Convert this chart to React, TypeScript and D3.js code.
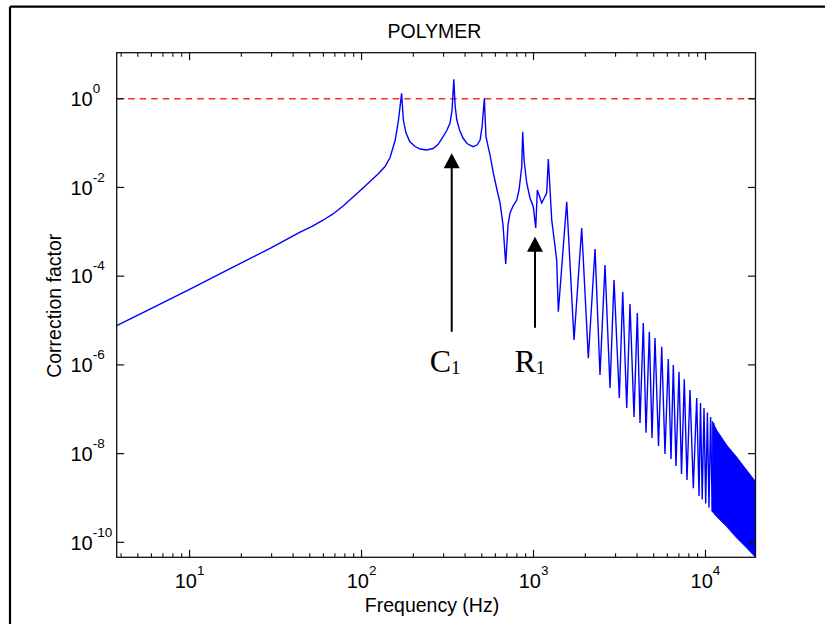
import React from 'react';
import * as d3 from 'd3';

const W = 825;
const H = 624;

// Axis domains (log)
const xDomain = [3.77, 19530];
const yDomain = [4.6e-11, 10.9];

// Tick labels
const xMajorTicks = [10, 100, 1000, 10000];
const xTickExponents = ['1', '2', '3', '4'];
const yMajorTicks = [1, 1e-2, 1e-4, 1e-6, 1e-8, 1e-10];
const yTickExponents = ['0', '-2', '-4', '-6', '-8', '-10'];

const titleText = 'POLYMER';
const xLabelText = 'Frequency (Hz)';
const yLabelText = 'Correction factor';

// Reference line
const referenceValue = 1;

// Correction factor curve (frequency in Hz, value)
const curveFreq = [
  3.77, 5.89, 10.07, 17.2, 29.4, 43.9, 51.55, 59.75, 68.3, 78.05, 94.2, 112, 124.7, 137, 146.5,
  157, 163.7, 167.4, 171, 175, 181.4, 191, 204.7, 218.8, 239, 260.4, 278.4, 298, 314.1, 327,
  336, 344, 349.7, 358, 371.4, 389, 410.6, 445, 469.5, 489, 502, 518, 522.4, 529, 558.6, 584,
  613.5, 639, 664.8, 689, 710.7, 730, 760, 799, 823.6, 854, 865, 880.8, 913, 954, 997, 1030,
  1052, 1116, 1193, 1219, 1276, 1364, 1394, 1560, 1720, 1906, 2083, 2279, 2435, 2604, 2785,
  2938, 3154, 3301, 3483, 3639, 3840, 4013, 4161, 4348, 4510, 4714, 4887, 5086, 5330, 5564,
  5813, 6076, 6301, 6498, 6737, 7013, 7253, 7528, 7805, 8127, 8494, 8888, 9168, 9352, 9568,
  9802, 10027, 10257, 10478, 10707, 10940, 11177, 11402,
];
const curveValue = [
  7.63e-6, 1.816e-5, 5.13e-5, 1.486e-4, 4.24e-4, 9.89e-4, 1.329e-3, 1.824e-3, 2.53e-3, 3.81e-3,
  7.29e-3, 0.0136, 0.02007, 0.0296, 0.0472, 0.117, 0.3144, 0.65, 1.32, 0.331, 0.1686, 0.107,
  0.0836, 0.0735, 0.0698, 0.0754, 0.0928, 0.139, 0.197, 0.283, 0.556, 2.74, 0.721, 0.331, 0.197,
  0.13, 0.0977, 0.0828, 0.0904, 0.117, 0.23, 1.02, 0.429, 0.139, 0.0538, 0.0211, 8.75e-3,
  4.45e-3, 1.42e-3, 1.88e-4, 1.42e-3, 2.65e-3, 3.81e-3, 5.2e-3, 8.75e-3, 0.0293, 0.18, 0.0415,
  0.0126, 5.78e-3, 3.67e-3, 1.22e-3, 8.75e-3, 4.45e-3, 7.48e-3, 0.0437, 1.84e-3, 2.31e-4,
  1.58e-5, 4.77e-3, 3.63e-6, 1.22e-3, 1.41e-6, 4.09e-4, 5.9e-7, 1.78e-4, 3.0e-7, 8.18e-5,
  1.79e-7, 4.46e-5, 1.07e-7, 2.35e-5, 6.68e-8, 1.48e-5, 4.89e-8, 8.79e-6, 2.96e-8, 5.59e-6,
  2.25e-8, 4.03e-6, 1.48e-8, 2.57e-6, 9.8e-9, 1.36e-6, 7.55e-9, 9.93e-7, 5.25e-9, 7.01e-7,
  3.47e-9, 4.72e-7, 2.54e-9, 2.71e-7, 1.65e-9, 1.79e-7, 1.11e-9, 1.38e-7, 9.22e-10, 1.066e-7,
  7.5e-10, 8.44e-8, 6.09e-10, 6.68e-8, 4.95e-10, 4.89e-8, 4.12e-10,
];

// Densely oscillating high-frequency part: upper / lower envelope
const bandFreq = [10940, 11617, 13285, 15186, 17360, 19530];
const bandUpper = [5.43e-8, 3.4e-8, 1.56e-8, 8.37e-9, 4.26e-9, 2.35e-9];
const bandLower = [4.95e-10, 3.78e-10, 2.24e-10, 1.25e-10, 7.44e-11, 4.6e-11];

// Annotations
const annotLabels = ['C', 'R'];
const annotSubs = ['1', '1'];
const annotFreq = [334.5, 1020];
const annotTip = [0.0588, 7.75e-4];
const annotBase = [5.59e-6, 6.88e-6];

const SANS = '"Liberation Sans", Arial, Helvetica, sans-serif';
const SERIF = '"Liberation Serif", "Times New Roman", Times, serif';

export default function App() {
  const M = { left: 116.7, right: 755.5, top: 52.7, bottom: 557.3 };
  const x = d3.scaleLog().domain(xDomain).range([M.left, M.right]);
  const y = d3.scaleLog().domain(yDomain).range([M.bottom, M.top]);

  const pts = curveFreq.map((f, i) => [f, curveValue[i]] as [number, number]);
  const linePath = d3
    .line<[number, number]>()
    .x((d) => x(d[0]))
    .y((d) => y(d[1]))(pts) as string;

  const bandPath = d3
    .area<number>()
    .x((f) => x(f))
    .y0((_, i) => y(bandLower[i]))
    .y1((_, i) => y(bandUpper[i]))(bandFreq) as string;

  const minorX = x.ticks().filter((t) => !xMajorTicks.some((m) => Math.abs(m - t) / m < 1e-6));

  const axisColor = '#111';
  const majLen = 7.5;
  const minLen = 4;

  return (
    <svg
      width={W}
      height={H}
      style={{ position: 'absolute', left: 0, top: 0, background: '#fff' }}
    >
      <rect x={0} y={0} width={W} height={H} fill="#fff" />
      {/* outer frame */}
      <line x1={10} y1={6.7} x2={W} y2={6.7} stroke="#000" strokeWidth={2.2} />
      <line x1={10} y1={6.7} x2={10} y2={H} stroke="#000" strokeWidth={2.2} />

      <defs>
        <clipPath id="plotclip">
          <rect x={M.left} y={M.top} width={M.right - M.left} height={M.bottom - M.top} />
        </clipPath>
      </defs>

      {/* reference line */}
      <line
        x1={M.left}
        x2={M.right}
        y1={y(referenceValue)}
        y2={y(referenceValue)}
        stroke="#ff2a2a"
        strokeWidth={1.4}
        strokeDasharray="6.5,5"
      />

      <g clipPath="url(#plotclip)">
        <path d={bandPath} fill="#0000ff" stroke="#0000ff" strokeWidth={0.8} />
        <path d={linePath} fill="none" stroke="#0000ff" strokeWidth={1.4} strokeLinejoin="miter" strokeMiterlimit={3} />
      </g>

      {/* axes box */}
      <rect
        x={M.left}
        y={M.top}
        width={M.right - M.left}
        height={M.bottom - M.top}
        fill="none"
        stroke={axisColor}
        strokeWidth={1.3}
      />

      {/* x ticks */}
      {xMajorTicks.map((t) => (
        <g key={'xm' + t}>
          <line x1={x(t)} x2={x(t)} y1={M.bottom} y2={M.bottom - majLen} stroke={axisColor} strokeWidth={1.2} />
          <line x1={x(t)} x2={x(t)} y1={M.top} y2={M.top + majLen} stroke={axisColor} strokeWidth={1.2} />
        </g>
      ))}
      {minorX.map((t) => (
        <g key={'xn' + t}>
          <line x1={x(t)} x2={x(t)} y1={M.bottom} y2={M.bottom - minLen} stroke={axisColor} strokeWidth={1.1} />
          <line x1={x(t)} x2={x(t)} y1={M.top} y2={M.top + minLen} stroke={axisColor} strokeWidth={1.1} />
        </g>
      ))}
      {xMajorTicks.map((t, i) => (
        <text
          key={'xl' + t}
          x={x(t)}
          y={588.3}
          textAnchor="middle"
          fontFamily={SANS}
          fontSize={20}
          fill="#000"
        >
          10
          <tspan fontSize={13.5} dy={-13}>
            {xTickExponents[i]}
          </tspan>
        </text>
      ))}

      {/* y ticks */}
      {yMajorTicks.map((t, i) => (
        <g key={'ym' + t}>
          <line x1={M.left} x2={M.left + majLen} y1={y(t)} y2={y(t)} stroke={axisColor} strokeWidth={1.2} />
          <line x1={M.right} x2={M.right - majLen} y1={y(t)} y2={y(t)} stroke={axisColor} strokeWidth={1.2} />
          <text x={70.5} y={y(t) + 7.3} fontFamily={SANS} fontSize={20} fill="#000">
            10
            <tspan fontSize={13.5} dy={-13}>
              {yTickExponents[i]}
            </tspan>
          </text>
        </g>
      ))}

      {/* title and labels */}
      <text x={434.5} y={37.5} textAnchor="middle" fontFamily={SANS} fontSize={19.5} fill="#000">
        {titleText}
      </text>
      <text x={432} y={612} textAnchor="middle" fontFamily={SANS} fontSize={19.5} fill="#000">
        {xLabelText}
      </text>
      <text
        transform={`translate(60.5, 305.8) rotate(-90)`}
        textAnchor="middle"
        fontFamily={SANS}
        fontSize={19.5}
        fill="#000"
      >
        {yLabelText}
      </text>

      {/* annotations */}
      {annotFreq.map((f, i) => {
        const ax = x(f);
        const tipY = y(annotTip[i]);
        const baseY = y(annotBase[i]);
        const headH = 15;
        const headW = 8;
        return (
          <g key={'an' + i}>
            <line x1={ax} x2={ax} y1={baseY} y2={tipY + headH - 1} stroke="#000" strokeWidth={2} />
            <polygon
              points={`${ax},${tipY} ${ax - headW},${tipY + headH} ${ax + headW},${tipY + headH}`}
              fill="#000"
            />
            <text x={ax - (i === 0 ? 22 : 20.5)} y={371.5} fontFamily={SERIF} fontSize={32} fill="#000">
              {annotLabels[i]}
              <tspan fontSize={19} dy={2.5}>
                {annotSubs[i]}
              </tspan>
            </text>
          </g>
        );
      })}
    </svg>
  );
}
